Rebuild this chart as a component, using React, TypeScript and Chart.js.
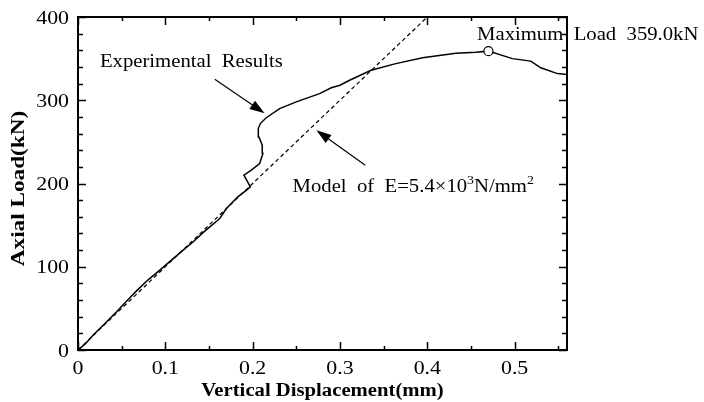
import React, { useEffect, useRef } from "react";
import { Chart, registerables } from "chart.js";

Chart.register(...registerables);

// Axis ticks
const xMajorTicks = [0, 0.1, 0.2, 0.3, 0.4, 0.5];
const xTickLabels = ["0", "0.1", "0.2", "0.3", "0.4", "0.5"];
const xMinorTicks = [0.05, 0.15, 0.25, 0.35, 0.45, 0.55];
const yMajorTicks = [0, 100, 200, 300, 400];
const yTickLabels = ["0", "100", "200", "300", "400"];
const yMinorTicks = [20, 40, 60, 80, 120, 140, 160, 180, 220, 240, 260, 280, 320, 340, 360, 380];

// Measured load–displacement curve (mm, kN)
const expDisp = [
  0, 0.008, 0.0175, 0.03, 0.0442, 0.055, 0.067, 0.08, 0.0937, 0.107, 0.1204, 0.132,
  0.1432, 0.1623, 0.17, 0.183, 0.193, 0.1974, 0.19, 0.1985, 0.208, 0.2118, 0.211,
  0.2072, 0.2065, 0.2088, 0.2156, 0.2309, 0.25, 0.2766, 0.29, 0.3, 0.311, 0.3356,
  0.364, 0.3947, 0.4328, 0.4556, 0.47, 0.4975, 0.5185, 0.53, 0.549, 0.56,
];
const expLoad = [
  0, 7, 18, 31, 46, 58, 71, 84, 96, 108, 120, 130,
  141, 158, 170, 184, 192, 196, 210, 216, 224, 236, 246,
  256, 266, 272, 279, 290, 298, 308, 315, 318, 324, 336,
  344, 351, 356.5, 357.6, 359.0, 350, 347, 339, 332, 331,
];

// Linear elastic model line
const modelDisp = [0, 0.4];
const modelLoad = [0, 400];

// Peak point
const peakDisp = [0.47];
const peakLoad = [359.0];

// Annotations (data units)
const expLabel = "Experimental  Results";
const expLabelAt = [0.0251, 339.6];
const expArrow = [0.1566, 325.2, 0.2137, 284.4];
const modelLabelParts = ["Model  of  E=5.4×10", "3", "N/mm", "2"];
const modelLabelAt = [0.2457, 189.6];
const modelArrow = [0.329, 222, 0.273, 264];
const peakLabel = "Maximum  Load  359.0kN";
const peakLabelAt = [0.457, 372];

const xTitle = "Vertical Displacement(mm)";
const yTitle = "Axial Load(kN)";

const SERIF = "'Liberation Serif', 'Times New Roman', serif";
const SX = 1.15;

function drawText(
  ctx: CanvasRenderingContext2D,
  s: string,
  x: number,
  y: number,
  align: "left" | "center" | "right",
  font: string,
  sx = SX
): number {
  ctx.save();
  ctx.font = font;
  const w = ctx.measureText(s).width * sx;
  const x0 = align === "left" ? x : align === "center" ? x - w / 2 : x - w;
  ctx.translate(x0, y);
  ctx.scale(sx, 1);
  ctx.textAlign = "left";
  ctx.textBaseline = "alphabetic";
  ctx.fillStyle = "#000";
  ctx.fillText(s, 0, 0);
  ctx.restore();
  return w;
}

function drawArrow(ctx: CanvasRenderingContext2D, x1: number, y1: number, x2: number, y2: number) {
  const ang = Math.atan2(y2 - y1, x2 - x1);
  const headLen = 15;
  const headW = 5;
  ctx.save();
  ctx.strokeStyle = "#000";
  ctx.fillStyle = "#000";
  ctx.lineWidth = 1.2;
  ctx.beginPath();
  ctx.moveTo(x1, y1);
  ctx.lineTo(x2 - Math.cos(ang) * headLen * 0.8, y2 - Math.sin(ang) * headLen * 0.8);
  ctx.stroke();
  ctx.beginPath();
  ctx.moveTo(x2, y2);
  const bx = x2 - Math.cos(ang) * headLen;
  const by = y2 - Math.sin(ang) * headLen;
  ctx.lineTo(bx + Math.sin(ang) * headW, by - Math.cos(ang) * headW);
  ctx.lineTo(bx - Math.sin(ang) * headW, by + Math.cos(ang) * headW);
  ctx.closePath();
  ctx.fill();
  ctx.restore();
}

const framePlugin = {
  id: "frameAndLabels",
  afterDraw(chart: any) {
    const ctx: CanvasRenderingContext2D = chart.ctx;
    const { left, right, top, bottom } = chart.chartArea;
    const xs = chart.scales.x;
    const ys = chart.scales.y;
    const tickFont = `19px ${SERIF}`;
    const annFont = `18px ${SERIF}`;

    ctx.save();
    ctx.strokeStyle = "#000";
    ctx.lineWidth = 2;
    ctx.strokeRect(left, top, right - left, bottom - top);

    ctx.lineWidth = 1.5;
    ctx.beginPath();
    const tick = (v: number, len: number) => {
      const px = Math.round(xs.getPixelForValue(v)) + 0.5;
      ctx.moveTo(px, bottom);
      ctx.lineTo(px, bottom - len);
      ctx.moveTo(px, top);
      ctx.lineTo(px, top + len);
    };
    xMajorTicks.forEach((v) => tick(v, 8));
    xMinorTicks.forEach((v) => tick(v, 4));
    const ytick = (v: number, len: number) => {
      const py = Math.round(ys.getPixelForValue(v)) + 0.5;
      ctx.moveTo(left, py);
      ctx.lineTo(left + len, py);
      ctx.moveTo(right, py);
      ctx.lineTo(right - len, py);
    };
    yMajorTicks.forEach((v) => ytick(v, 8));
    yMinorTicks.forEach((v) => ytick(v, 5));
    ctx.stroke();
    ctx.restore();

    // tick labels
    xMajorTicks.forEach((v, i) => {
      drawText(ctx, xTickLabels[i], xs.getPixelForValue(v), bottom + 24, "center", tickFont);
    });
    yMajorTicks.forEach((v, i) => {
      drawText(ctx, yTickLabels[i], left - 9, ys.getPixelForValue(v) + 6.5, "right", tickFont);
    });

    // axis titles
    const titleFont = `bold 18px ${SERIF}`;
    drawText(ctx, xTitle, (left + right) / 2, bottom + 46, "center", titleFont);
    ctx.save();
    ctx.translate(24, (top + bottom) / 2 + 5);
    ctx.rotate(-Math.PI / 2);
    drawText(ctx, yTitle, 0, 0, "center", titleFont, 1.29);
    ctx.restore();

    // annotations
    drawText(ctx, expLabel, xs.getPixelForValue(expLabelAt[0]), ys.getPixelForValue(expLabelAt[1]), "left", annFont);
    drawArrow(
      ctx,
      xs.getPixelForValue(expArrow[0]),
      ys.getPixelForValue(expArrow[1]),
      xs.getPixelForValue(expArrow[2]),
      ys.getPixelForValue(expArrow[3])
    );
    drawArrow(
      ctx,
      xs.getPixelForValue(modelArrow[0]),
      ys.getPixelForValue(modelArrow[1]),
      xs.getPixelForValue(modelArrow[2]),
      ys.getPixelForValue(modelArrow[3])
    );
    let mx = xs.getPixelForValue(modelLabelAt[0]);
    const my = ys.getPixelForValue(modelLabelAt[1]);
    const supFont = `12px ${SERIF}`;
    mx += drawText(ctx, modelLabelParts[0], mx, my, "left", annFont);
    mx += drawText(ctx, modelLabelParts[1], mx, my - 8, "left", supFont);
    mx += drawText(ctx, modelLabelParts[2], mx, my, "left", annFont);
    drawText(ctx, modelLabelParts[3], mx, my - 8, "left", supFont);

    drawText(ctx, peakLabel, xs.getPixelForValue(peakLabelAt[0]), ys.getPixelForValue(peakLabelAt[1]), "left", annFont);
  },
};

export default function App() {
  const ref = useRef<HTMLCanvasElement | null>(null);

  useEffect(() => {
    document.body.style.margin = "0";
    const canvas = ref.current;
    if (!canvas) return;
    const chart = new Chart(canvas, {
      type: "scatter",
      data: {
        datasets: [
          {
            label: "Model",
            data: modelDisp.map((x, i) => ({ x, y: modelLoad[i] })),
            showLine: true,
            borderColor: "#000",
            borderWidth: 1.2,
            borderDash: [4, 3],
            pointRadius: 0,
            fill: false,
            order: 3,
          },
          {
            label: "Experimental",
            data: expDisp.map((x, i) => ({ x, y: expLoad[i] })),
            showLine: true,
            borderColor: "#000",
            borderWidth: 1.5,
            pointRadius: 0,
            tension: 0,
            fill: false,
            order: 2,
          },
          {
            label: "Peak",
            data: peakDisp.map((x, i) => ({ x, y: peakLoad[i] })),
            showLine: false,
            pointRadius: 4.5,
            pointBackgroundColor: "#fff",
            pointBorderColor: "#000",
            pointBorderWidth: 1.2,
            order: 1,
          },
        ],
      },
      options: {
        responsive: false,
        animation: false,
        layout: { padding: { left: 78, right: 137, top: 17, bottom: 52 } },
        plugins: {
          legend: { display: false },
          tooltip: { enabled: false },
        },
        scales: {
          x: { type: "linear", min: 0, max: 0.56, display: false },
          y: { type: "linear", min: 0, max: 400, display: false },
        },
      },
      plugins: [framePlugin],
    });
    return () => chart.destroy();
  }, []);

  return (
    <div style={{ position: "absolute", left: 0, top: 0, width: 704, height: 402, background: "#fff" }}>
      <canvas ref={ref} width={704} height={402} style={{ width: 704, height: 402 }} />
    </div>
  );
}
